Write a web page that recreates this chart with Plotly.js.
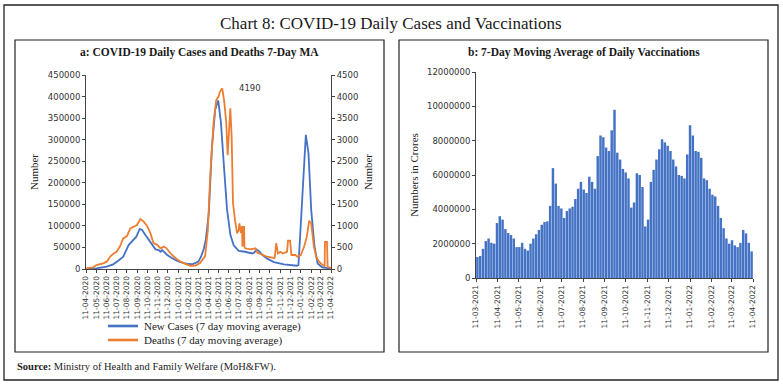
<!DOCTYPE html>
<html>
<head>
<meta charset="utf-8">
<script src="https://cdn.plot.ly/plotly-3.0.1.min.js"></script>
<style>html,body{margin:0;padding:0;background:#fff;}#chart{width:783px;height:385px;}</style>
</head>
<body>
<div id="chart"></div>
<script>
// ---------------- DATA ----------------
const caseDates = ['2020-04-11','2020-05-12','2020-06-12','2020-07-01','2020-07-16','2020-07-31','2020-08-16','2020-08-26','2020-09-08','2020-09-18','2020-09-25','2020-10-05','2020-10-15','2020-10-25','2020-11-04','2020-11-14','2020-11-19','2020-11-24','2020-11-29','2020-12-09','2020-12-24','2021-01-08','2021-01-23','2021-02-08','2021-02-22','2021-03-03','2021-03-12','2021-03-20','2021-03-28','2021-04-03','2021-04-12','2021-04-21','2021-05-01','2021-05-10','2021-05-18','2021-05-26','2021-06-05','2021-06-15','2021-06-25','2021-07-10','2021-07-29','2021-08-19','2021-08-26','2021-08-31','2021-09-08','2021-09-18','2021-10-03','2021-10-23','2021-11-22','2021-12-30','2022-01-04','2022-01-10','2022-01-17','2022-01-26','2022-02-03','2022-02-11','2022-02-21','2022-03-02','2022-03-16','2022-04-11'];
const caseValues = [500,1500,5400,10800,19300,28600,55600,63400,75000,92800,90400,78800,67200,55600,45600,44000,40000,44000,40000,32500,24700,18500,14700,11600,11000,14700,17000,29000,47000,68000,130000,280000,370000,391000,340000,250000,140000,80000,55000,42000,40000,36000,38000,45600,42000,33000,24000,16000,10500,7500,9000,90000,190000,311000,268000,137000,52000,13000,4000,1000];

const deathDates = ['2020-04-11','2020-05-03','2020-05-12','2020-06-01','2020-06-12','2020-06-22','2020-07-01','2020-07-11','2020-07-21','2020-07-31','2020-08-11','2020-08-21','2020-08-31','2020-09-10','2020-09-20','2020-09-30','2020-10-10','2020-10-20','2020-10-29','2020-11-09','2020-11-19','2020-11-29','2020-12-07','2020-12-19','2021-01-03','2021-01-18','2021-02-02','2021-02-17','2021-03-03','2021-03-17','2021-04-01','2021-04-05','2021-04-09','2021-04-16','2021-04-26','2021-05-04','2021-05-11','2021-05-15','2021-05-22','2021-05-28','2021-06-03','2021-06-07','2021-06-11','2021-06-15','2021-06-19','2021-06-23','2021-06-29','2021-07-05','2021-07-10','2021-07-12','2021-07-17','2021-07-20','2021-07-21','2021-07-26','2021-07-27','2021-07-29','2021-08-14','2021-08-29','2021-09-03','2021-09-18','2021-10-03','2021-10-25','2021-10-30','2021-11-04','2021-11-11','2021-11-18','2021-12-01','2021-12-04','2021-12-10','2021-12-14','2021-12-26','2022-01-01','2022-01-11','2022-01-21','2022-01-29','2022-02-05','2022-02-11','2022-02-19','2022-02-26','2022-03-06','2022-03-16','2022-03-23','2022-03-24','2022-03-30','2022-04-01','2022-04-11'];
const deathValues = [15,40,90,130,170,290,350,400,520,710,765,940,980,1020,1160,1100,1000,830,600,560,480,520,480,360,250,170,115,75,80,140,300,550,900,2140,3380,3920,4000,4110,4190,3880,3380,2640,3220,3730,3070,1530,1140,830,900,1060,830,1000,520,1000,520,480,455,480,380,325,285,250,600,360,400,360,400,660,660,325,325,285,325,520,750,1120,1060,520,285,170,90,55,630,630,55,20];

const vaxStart = '2021-03-11';
const vaxStepDays = 4;
const vaxValues = [1220000,1280000,1700000,2150000,2300000,2050000,2000000,3200000,3600000,3400000,
2850000,2620000,2500000,2300000,1800000,1800000,2050000,1700000,1600000,2000000,
2300000,2550000,2800000,3100000,3260000,3300000,4200000,6400000,5500000,4200000,
4050000,3500000,3900000,4050000,4150000,4600000,5200000,5600000,5150000,4950000,
5900000,5600000,5200000,7100000,8300000,8200000,7600000,7400000,8600000,9800000,
7300000,6900000,6350000,6150000,5800000,4100000,4400000,6100000,6000000,5300000,
3000000,3400000,5600000,6300000,6900000,7500000,8080000,7900000,7700000,7400000,
6900000,6500000,6000000,5950000,5800000,7200000,8900000,8300000,7400000,7350000,
7000000,5800000,5700000,5200000,4850000,4750000,4200000,3500000,2900000,2300000,
2000000,2200000,1900000,1800000,2050000,2800000,2600000,2050000,1550000];

const leftTickLabels = ['11-04-2020','11-05-2020','11-06-2020','11-07-2020','11-08-2020','11-09-2020','11-10-2020','11-11-2020','11-12-2020','11-01-2021','11-02-2021','11-03-2021','11-04-2021','11-05-2021','11-06-2021','11-07-2021','11-08-2021','11-09-2021','11-10-2021','11-11-2021','11-12-2021','11-01-2022','11-02-2022','11-03-2022','11-04-2022'];
const rightTickLabels = ['11-03-2021','11-04-2021','11-05-2021','11-06-2021','11-07-2021','11-08-2021','11-09-2021','11-10-2021','11-11-2021','11-12-2021','11-01-2022','11-02-2022','11-03-2022','11-04-2022'];

const seriesNames = ['New Cases (7 day moving average)','Deaths (7 day moving average)'];
const chartTitle = 'Chart 8: COVID-19 Daily Cases and Vaccinations';
const leftTitle = 'a: COVID-19 Daily Cases and Deaths 7-Day MA';
const rightTitle = 'b: 7-Day Moving Average of Daily Vaccinations';
const sourceText = '<b>Source:</b> Ministry of Health and Family Welfare (MoH&FW).';

// ---------------- BUILD ----------------
const W = 783, H = 385;
const px = v => v / W;
const py = v => 1 - v / H;
const toIso = s => { const p = s.split('-'); return p[2] + '-' + p[1] + '-' + p[0]; };
const DAY = 86400000;
const vaxDates = vaxValues.map((_, i) => {
  const d = new Date(vaxStart + 'T00:00:00Z');
  d.setUTCDate(d.getUTCDate() + i * vaxStepDays);
  return d.toISOString().slice(0, 10);
});

const blue = '#4472C4', orange = '#ED7D31';
const seriesColors = [blue, orange];
const tickFont = {family: 'DejaVu Sans', size: 8.5, color: '#333'};
const xTickFont = {family: 'DejaVu Sans', size: 7.5, color: '#333'};
const serif = 'Liberation Serif';

const traces = [
  {type: 'scatter', mode: 'lines', x: caseDates, y: caseValues, name: seriesNames[0],
   line: {color: blue, width: 1.8}, xaxis: 'x', yaxis: 'y', showlegend: false},
  {type: 'scatter', mode: 'lines', x: deathDates, y: deathValues, name: seriesNames[1],
   line: {color: orange, width: 1.8}, xaxis: 'x', yaxis: 'y2', showlegend: false},
  {type: 'bar', x: vaxDates, y: vaxValues, showlegend: false, xaxis: 'x2', yaxis: 'y3',
   xperiod: vaxStepDays * DAY, xperiodalignment: 'middle',
   marker: {color: blue, line: {width: 0}}}
];

const peakIdx = deathValues.indexOf(Math.max(...deathValues));

const axBase = {showline: true, linecolor: '#444', linewidth: 1, ticks: 'outside', ticklen: 3,
  tickcolor: '#444', showgrid: false, zeroline: false, tickfont: tickFont};

// custom compact legend (lines + labels)
const legendShapes = [], legendAnn = [];
seriesNames.forEach((n, i) => {
  const yy = 326 + i * 14;
  legendShapes.push({type: 'line', xref: 'paper', yref: 'paper', x0: px(108), x1: px(138),
    y0: py(yy), y1: py(yy), line: {color: seriesColors[i], width: 2.6}});
  legendAnn.push({text: n, xref: 'paper', yref: 'paper', x: px(142), y: py(yy), showarrow: false,
    xanchor: 'left', yanchor: 'middle', font: {family: serif, size: 11, color: '#222'}});
});

const layout = {
  width: W, height: H, margin: {l: 0, r: 0, t: 0, b: 0},
  paper_bgcolor: '#fff', plot_bgcolor: 'rgba(0,0,0,0)',
  bargap: 0.12,
  showlegend: false,
  xaxis: Object.assign({}, axBase, {domain: [px(86), px(331)], anchor: 'y', type: 'date',
    range: ['2020-04-11', '2022-04-11'], tickvals: leftTickLabels.map(toIso), ticktext: leftTickLabels,
    tickangle: -90, tickfont: xTickFont}),
  yaxis: Object.assign({}, axBase, {domain: [py(269), py(75)], anchor: 'x', range: [0, 450000],
    dtick: 50000, tick0: 0, tickformat: 'd',
    title: {text: 'Number', font: {family: serif, size: 11, color: '#222'}, standoff: 6}}),
  yaxis2: Object.assign({}, axBase, {overlaying: 'y', side: 'right', anchor: 'x', range: [0, 4500],
    dtick: 500, tick0: 0, tickformat: 'd',
    title: {text: 'Number', font: {family: serif, size: 11, color: '#222'}, standoff: 6}}),
  xaxis2: Object.assign({}, axBase, {domain: [px(476), px(753)], anchor: 'y3', type: 'date',
    range: ['2021-03-11', '2022-04-11'], tickvals: rightTickLabels.map(toIso), ticktext: rightTickLabels,
    tickangle: -90, tickfont: xTickFont}),
  yaxis3: Object.assign({}, axBase, {domain: [py(278), py(72)], anchor: 'x2', range: [0, 12000000],
    dtick: 2000000, tick0: 0, tickformat: 'd',
    title: {text: 'Numbers in Crores', font: {family: serif, size: 11, color: '#222'}, standoff: 6}}),
  shapes: [
    {type: 'rect', xref: 'paper', yref: 'paper', x0: px(4), x1: px(778), y0: py(380), y1: py(5),
     line: {color: '#222', width: 1.3}},
    {type: 'rect', xref: 'paper', yref: 'paper', x0: px(15), x1: px(384), y0: py(352), y1: py(40),
     line: {color: '#222', width: 1.2}},
    {type: 'rect', xref: 'paper', yref: 'paper', x0: px(399), x1: px(768), y0: py(352), y1: py(40),
     line: {color: '#222', width: 1.2}}
  ].concat(legendShapes),
  annotations: [
    {text: chartTitle, xref: 'paper', yref: 'paper', x: px(391), y: py(23), showarrow: false,
     xanchor: 'center', yanchor: 'middle', font: {family: serif, size: 17, color: '#1a1a1a'}},
    {text: '<b>' + leftTitle + '</b>', xref: 'paper', yref: 'paper', x: px(199.5), y: py(53), showarrow: false,
     xanchor: 'center', yanchor: 'middle', font: {family: serif, size: 11.5, color: '#1a1a1a'}},
    {text: '<b>' + rightTitle + '</b>', xref: 'paper', yref: 'paper', x: px(584), y: py(53), showarrow: false,
     xanchor: 'center', yanchor: 'middle', font: {family: serif, size: 11.5, color: '#1a1a1a'}},
    {text: sourceText, xref: 'paper', yref: 'paper', x: px(15), y: py(367), showarrow: false,
     xanchor: 'left', yanchor: 'middle', font: {family: serif, size: 10.5, color: '#222'}},
    {text: String(deathValues[peakIdx]), xref: 'x', yref: 'y2', x: deathDates[peakIdx], y: deathValues[peakIdx],
     showarrow: false, xanchor: 'left', yanchor: 'middle', xshift: 15, font: {family: 'DejaVu Sans', size: 8.5, color: '#333'}}
  ].concat(legendAnn)
};

Plotly.newPlot('chart', traces, layout, {displayModeBar: false, staticPlot: true});
</script>
</body>
</html>
